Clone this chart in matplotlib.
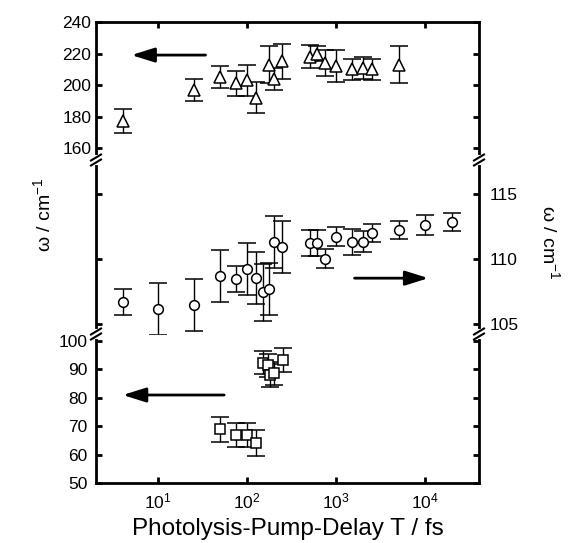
import matplotlib
matplotlib.use("Agg")
import matplotlib.pyplot as plt
from matplotlib.ticker import LogLocator, NullLocator

plt.rcParams['font.family'] = ['Liberation Sans', 'DejaVu Sans']
plt.rcParams['mathtext.fontset'] = 'custom'
plt.rcParams['mathtext.rm'] = 'Liberation Sans'
plt.rcParams['mathtext.it'] = 'Liberation Sans:italic'
plt.rcParams['font.size'] = 12.5

# triangles (top panel, left axis)
tri_t = [4, 25, 50, 75, 100, 125, 177, 198, 245, 500, 600, 740, 1000, 1500, 2000, 2500, 5000]
tri_w = [177, 197, 205, 201, 203, 192, 213, 204, 215, 218, 220, 214, 212, 210, 211, 210, 213]
tri_e = [7.5, 7, 7, 8, 10, 10, 12, 7, 11, 7.5, 5, 8.5, 10, 6.5, 7, 6.5, 12]

# circles (middle panel, right axis)
cir_t = [4, 10, 25, 50, 75, 100, 125, 150, 177, 200, 245, 500, 600, 750, 1000, 1500, 2000, 2500, 5000, 10000, 20000]
cir_w = [106.7, 106.1, 106.4, 108.7, 108.4, 109.2, 108.5, 107.4, 107.7, 111.3, 110.9, 111.2, 111.2,
         110.0, 111.7, 111.3, 111.3, 112.0, 112.2, 112.6, 112.8]
cir_e = [1.0, 2.0, 2.0, 2.0, 1.0, 2.0, 2.0, 2.2, 2.0, 2.0, 2.0, 1.0, 1.0,
         0.75, 0.75, 1.0, 0.8, 0.7, 0.7, 0.75, 0.7]

# squares (bottom panel, left axis)
sq_t = [50, 75, 100, 125, 150, 172, 180, 200, 250]
sq_w = [69, 67, 67, 64, 92.4, 91.5, 88, 88.6, 93.3]
sq_e = [4.4, 4.2, 4.2, 4.5, 4, 4, 4, 4, 4.2]

fig = plt.figure(figsize=(5.74, 5.43), dpi=100)
L, W = 96 / 574, 383 / 574
ax_top = fig.add_axes([L, 1 - 160 / 543, W, 138 / 543])
ax_mid = fig.add_axes([L, 1 - 334 / 543, W, 174 / 543])
ax_bot = fig.add_axes([L, 1 - 483 / 543, W, 149 / 543])
axes = [ax_top, ax_mid, ax_bot]

eb = dict(color='k', ecolor='k', elinewidth=1.0, capsize=6.5, capthick=1.6,
          linestyle='none', markerfacecolor='white', markeredgecolor='k', markeredgewidth=1.1)
ax_top.errorbar(tri_t, tri_w, yerr=tri_e, marker='^', markersize=8, **eb)
ax_mid.errorbar(cir_t, cir_w, yerr=cir_e, marker='o', markersize=7, **eb)
ax_bot.errorbar(sq_t, sq_w, yerr=sq_e, marker='s', markersize=6.5, **eb)

ax_top.set_ylim(152.4, 240)
ax_mid.set_ylim(104.2, 117.6)
ax_bot.set_ylim(50, 102.5)
ax_top.set_yticks([160, 180, 200, 220, 240])
ax_mid.set_yticks([105, 110, 115])
ax_bot.set_yticks([50, 60, 70, 80, 90, 100])

for ax in axes:
    ax.set_xscale('log')
    ax.set_xlim(2, 4e4)
    ax.xaxis.set_major_locator(LogLocator(base=10, numticks=10))
    ax.xaxis.set_minor_locator(NullLocator())
    ax.tick_params(direction='in', length=4, width=2, top=True, right=True, labelsize=12.5)
    for s in ax.spines.values():
        s.set_linewidth(2)
    ax.patch.set_alpha(0)

ax_top.spines['bottom'].set_visible(False)
ax_top.tick_params(bottom=False, labelbottom=False)
ax_mid.spines['top'].set_visible(False)
ax_mid.spines['bottom'].set_visible(False)
ax_mid.tick_params(top=False, bottom=False, labelbottom=False, labelleft=False, labelright=True, pad=8)
ax_bot.spines['top'].set_visible(False)
ax_bot.tick_params(top=False, pad=6)

# break marks, sizes in pixels
def brk(ypx):
    for xpx in (96, 479):
        x0, y0 = xpx / 574, 1 - ypx / 543
        fig.add_artist(plt.Line2D([x0, x0], [y0 - 3 / 543, y0 + 3 / 543], color='white', lw=3, zorder=5))
        for d in (-2.5, 2.5):
            fig.add_artist(plt.Line2D([x0 - 5 / 574, x0 + 5 / 574],
                                      [y0 + (d - 3) / 543, y0 + (d + 3) / 543],
                                      color='k', lw=1.5, zorder=6))

brk(160)
brk(334)

# arrows
ap = dict(arrowstyle='-|>,head_length=0.7,head_width=0.22', color='k', lw=2,
          mutation_scale=20, shrinkA=0, shrinkB=0)
ax_top.annotate('', xy=(5.0, 219), xytext=(34, 219), arrowprops=ap)
ax_mid.annotate('', xy=(10800, 108.5), xytext=(1600, 108.5), arrowprops=ap)
ax_bot.annotate('', xy=(4.0, 81), xytext=(55, 81), arrowprops=ap)

ax_bot.set_xlabel('Photolysis-Pump-Delay T / fs', fontsize=17.5, labelpad=5)
fig.text(0.075, 1 - 215 / 543, 'ω / cm$^{-1}$', rotation=90, ha='center', va='center', fontsize=14)
fig.text(550 / 574, 1 - 242 / 543, 'ω / cm$^{-1}$', rotation=-90, ha='center', va='center', fontsize=14)

fig.savefig('out.png', dpi=100)
